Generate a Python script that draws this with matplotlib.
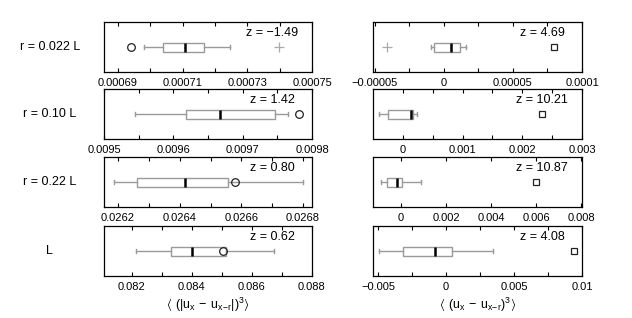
import matplotlib
matplotlib.use("Agg")
import matplotlib.pyplot as plt

plt.rcParams['font.family'] = ['Liberation Sans', 'DejaVu Sans']
plt.rcParams['mathtext.default'] = 'regular'
plt.rcParams['axes.unicode_minus'] = True

row_labels = ['r = 0.022 L', 'r = 0.10 L', 'r = 0.22 L', 'L']

# left column: <|du|^3>
left_z = ['z = \u22121.49', 'z = 1.42', 'z = 0.80', 'z = 0.62']
left_whislo = [0.0006980, 0.0095447, 0.026187, 0.082132]
left_q1 = [0.0007038, 0.0096183, 0.026262, 0.083320]
left_med = [0.0007106, 0.0096673, 0.026418, 0.084013]
left_q3 = [0.0007165, 0.0097466, 0.026557, 0.085135]
left_whishi = [0.0007248, 0.0097654, 0.026800, 0.086719]
left_circle = [0.0006940, 0.0097813, 0.026580, 0.085036]
left_plus = [0.0007398, None, None, None]
left_xlim = [(0.0006857, 0.00075), (0.0095, 0.0098), (0.0261545, 0.026829), (0.081076, 0.08794)]
left_major = [[0.00069, 0.00071, 0.00073, 0.00075],
              [0.0095, 0.0096, 0.0097, 0.0098],
              [0.0262, 0.0264, 0.0266, 0.0268],
              [0.082, 0.084, 0.086, 0.088]]
left_ticklabels = [['0.00069', '0.00071', '0.00073', '0.00075'],
                   ['0.0095', '0.0096', '0.0097', '0.0098'],
                   ['0.0262', '0.0264', '0.0266', '0.0268'],
                   ['0.082', '0.084', '0.086', '0.088']]
left_minor = [[0.00070, 0.00072, 0.00074],
              [0.00955, 0.00965, 0.00975],
              [0.0263, 0.0265, 0.0267],
              [0.083, 0.085, 0.087]]

# right column: <du^3>
right_z = ['z = 4.69', 'z = 10.21', 'z = 10.87', 'z = 4.08']
right_whislo = [-9.4e-6, -0.000402, -0.000889, -0.00496]
right_q1 = [-7.2e-6, -0.000251, -0.000622, -0.00314]
right_med = [5.1e-6, 0.000134, -0.000178, -0.00080]
right_q3 = [11.6e-6, 0.000168, 0.000044, 0.00044]
right_whishi = [15.9e-6, 0.000235, 0.000889, 0.00343]
right_square = [79.7e-6, 0.002328, 0.0060, 0.00942]
right_plus = [-41.3e-6, None, None, None]
right_xlim = [(-0.0000514, 0.0001), (-0.0005, 0.003), (-0.00124, 0.00804), (-0.00537, 0.0100)]
right_major = [[-0.00005, 0, 0.00005, 0.0001],
               [0, 0.001, 0.002, 0.003],
               [0, 0.002, 0.004, 0.006, 0.008],
               [-0.005, 0, 0.005, 0.01]]
right_ticklabels = [['\u22120.00005', '0', '0.00005', '0.0001'],
                    ['0', '0.001', '0.002', '0.003'],
                    ['0', '0.002', '0.004', '0.006', '0.008'],
                    ['\u22120.005', '0', '0.005', '0.01']]
right_minor = [[-0.000025, 0.000025, 0.000075],
               [0.0005, 0.0015, 0.0025],
               [],
               [-0.0025, 0.0025, 0.0075]]

fig = plt.figure(figsize=(6.32, 3.18), dpi=100)

bottoms = [1 - 72 / 318, 1 - 139 / 318, 1 - 207 / 318, 1 - 276 / 318]
h = 0.157
lx, lw = 104 / 632, 208 / 632
rx, rw = 373 / 632, 209 / 632

grey = '#9a9a9a'


def draw_box(ax, lo, q1, med, q3, hi):
    stats = [dict(whislo=lo, q1=q1, med=med, q3=q3, whishi=hi, fliers=[])]
    ax.bxp(stats, positions=[1], widths=0.18, vert=False, showfliers=False,
           patch_artist=True, capwidths=[0.08],
           boxprops=dict(facecolor='white', edgecolor=grey, linewidth=1),
           whiskerprops=dict(color=grey, linewidth=1),
           capprops=dict(color=grey, linewidth=1),
           medianprops=dict(color='black', linewidth=1.8))


def style_axis(ax, xlim, major, labels, minor):
    ax.set_xlim(*xlim)
    ax.set_ylim(0.5, 1.5)
    ax.set_yticks([])
    ax.set_xticks(major)
    ax.set_xticklabels(labels, fontsize=8)
    ax.set_xticks(minor, minor=True)
    ax.tick_params(axis='x', which='both', direction='in', top=True, bottom=True,
                   length=3, width=0.8, pad=4)
    for s in ax.spines.values():
        s.set_linewidth(0.9)


for i in range(4):
    ax = fig.add_axes([lx, bottoms[i], lw, h])
    draw_box(ax, left_whislo[i], left_q1[i], left_med[i], left_q3[i], left_whishi[i])
    ax.plot([left_circle[i]], [1], 'o', mfc='none', mec='#222222', ms=5.5, mew=0.9)
    if left_plus[i] is not None:
        ax.plot([left_plus[i]], [1], '+', color='#aaaaaa', ms=7, mew=0.9)
    style_axis(ax, left_xlim[i], left_major[i], left_ticklabels[i], left_minor[i])
    ax.text(0.81, 0.78, left_z[i], transform=ax.transAxes, ha='center', va='center', fontsize=9)
    ax.text(-0.26, 0.5, row_labels[i], transform=ax.transAxes, ha='center', va='center', fontsize=9)
    if i == 3:
        ax.set_xlabel(r'$\langle\ (|u_x\,-\,u_{x\!-\!r}|)^3\rangle$', fontsize=9, labelpad=3)

    ax = fig.add_axes([rx, bottoms[i], rw, h])
    draw_box(ax, right_whislo[i], right_q1[i], right_med[i], right_q3[i], right_whishi[i])
    ax.plot([right_square[i]], [1], 's', mfc='none', mec='#222222', ms=5, mew=0.9)
    if right_plus[i] is not None:
        ax.plot([right_plus[i]], [1], '+', color='#aaaaaa', ms=7, mew=0.9)
    style_axis(ax, right_xlim[i], right_major[i], right_ticklabels[i], right_minor[i])
    ax.text(0.81, 0.78, right_z[i], transform=ax.transAxes, ha='center', va='center', fontsize=9)
    if i == 3:
        ax.set_xlabel(r'$\langle\ (u_x\,-\,u_{x\!-\!r})^3\rangle$', fontsize=9, labelpad=3)

fig.savefig('out.png', dpi=100)
